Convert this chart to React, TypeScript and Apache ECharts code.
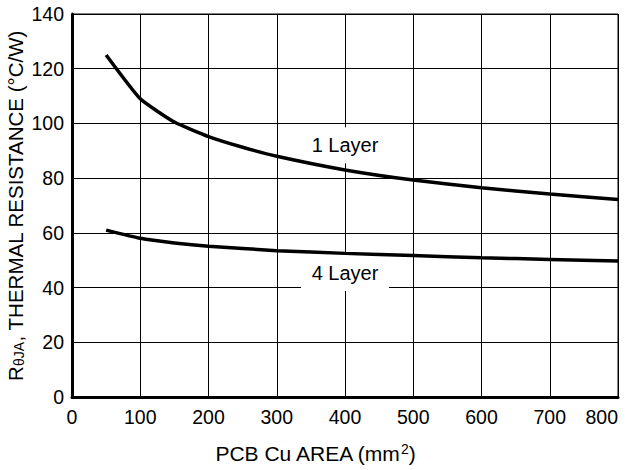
import React, { useEffect, useRef } from "react";
import * as echarts from "echarts";

const areaOneLayer = [50, 100, 150, 200, 250, 300, 400, 500, 600, 700, 800];
const rOneLayer = [125, 109, 100.5, 95.2, 91.3, 88, 83, 79.3, 76.5, 74.2, 72.2];
const areaFourLayer = [50, 100, 150, 200, 300, 400, 500, 600, 700, 800];
const rFourLayer = [61, 58, 56.3, 55.1, 53.5, 52.5, 51.7, 50.9, 50.3, 49.7];
const labelOne = { text: "1 Layer", x: 400, y: 92 };
const labelFour = { text: "4 Layer", x: 400, y: 45.3 };

const FONT = "'Liberation Sans', Arial, Helvetica, sans-serif";

export default function App() {
  const ref = useRef<HTMLDivElement>(null);
  useEffect(() => {
    document.body.style.margin = "0";
    const chart = echarts.init(ref.current!, null, { renderer: "svg" });
    const pair = (xs: number[], ys: number[]) => xs.map((x, i) => [x, ys[i]]);
    const labelPoint = (l: { text: string; x: number; y: number }) => ({
      coord: [l.x, l.y],
      name: l.text,
      symbol: "rect",
      symbolSize: [88, 36],
      itemStyle: { color: "#fff" },
      label: {
        show: true,
        position: "inside",
        formatter: l.text,
        color: "#000",
        fontSize: 20,
        fontFamily: FONT,
      },
    });
    chart.setOption({
      animation: false,
      backgroundColor: "#fff",
      textStyle: { fontFamily: FONT, color: "#000" },
      grid: {
        left: 72,
        top: 14,
        width: 546,
        height: 383,
        outerBoundsMode: "none",
        containLabel: false,
        show: true,
        borderColor: "#000",
        borderWidth: 1,
        backgroundColor: "transparent",
      },
      xAxis: {
        type: "value",
        min: 0,
        max: 800,
        interval: 100,
        name: "PCB Cu AREA (mm{sup|2})",
        nameLocation: "middle",
        nameGap: 45,
        nameTextStyle: {
          fontSize: 21,
          color: "#000",
          fontFamily: FONT,
          padding: [0, 60, 0, 0],
          rich: {
            sup: { fontSize: 14, verticalAlign: "top", padding: [0, 0, 9, 0], color: "#000", fontFamily: FONT },
          },
        },
        axisLine: { show: true, onZero: false, lineStyle: { color: "#000", width: 3 } },
        axisTick: { show: false },
        axisLabel: { fontSize: 19.5, color: "#000", margin: 10, fontFamily: FONT, alignMaxLabel: "right" },
        splitLine: { show: true, lineStyle: { color: "#000", width: 1 } },
      },
      yAxis: {
        type: "value",
        min: 0,
        max: 140,
        interval: 20,
        name: "R{sub|θJA}, THERMAL RESISTANCE (°C/W)",
        nameLocation: "middle",
        nameGap: 46,
        nameMoveOverlap: false,
        nameTextStyle: {
          fontSize: 20.5,
          color: "#000",
          fontFamily: FONT,
          rich: {
            sub: { fontSize: 14, verticalAlign: "bottom", padding: [7, 0, 0, 0], color: "#000", fontFamily: FONT },
          },
        },
        axisLine: { show: true, onZero: false, lineStyle: { color: "#000", width: 3 } },
        axisTick: { show: false },
        axisLabel: { fontSize: 19.5, color: "#000", margin: 8, fontFamily: FONT },
        splitLine: { show: true, lineStyle: { color: "#000", width: 1 } },
      },
      series: [
        {
          name: "labels",
          type: "line",
          z: 1,
          data: [],
          markPoint: {
            z: 1,
            data: [labelPoint(labelOne), labelPoint(labelFour)],
          },
        },
        {
          name: "1 Layer",
          type: "line",
          z: 3,
          data: pair(areaOneLayer, rOneLayer),
          smooth: 0.15,
          showSymbol: false,
          lineStyle: { color: "#000", width: 3.5 },
        },
        {
          name: "4 Layer",
          type: "line",
          z: 3,
          data: pair(areaFourLayer, rFourLayer),
          smooth: 0.15,
          showSymbol: false,
          lineStyle: { color: "#000", width: 3.5 },
        },
      ],
    });
    return () => chart.dispose();
  }, []);
  return <div ref={ref} style={{ width: 627, height: 470 }} />;
}
